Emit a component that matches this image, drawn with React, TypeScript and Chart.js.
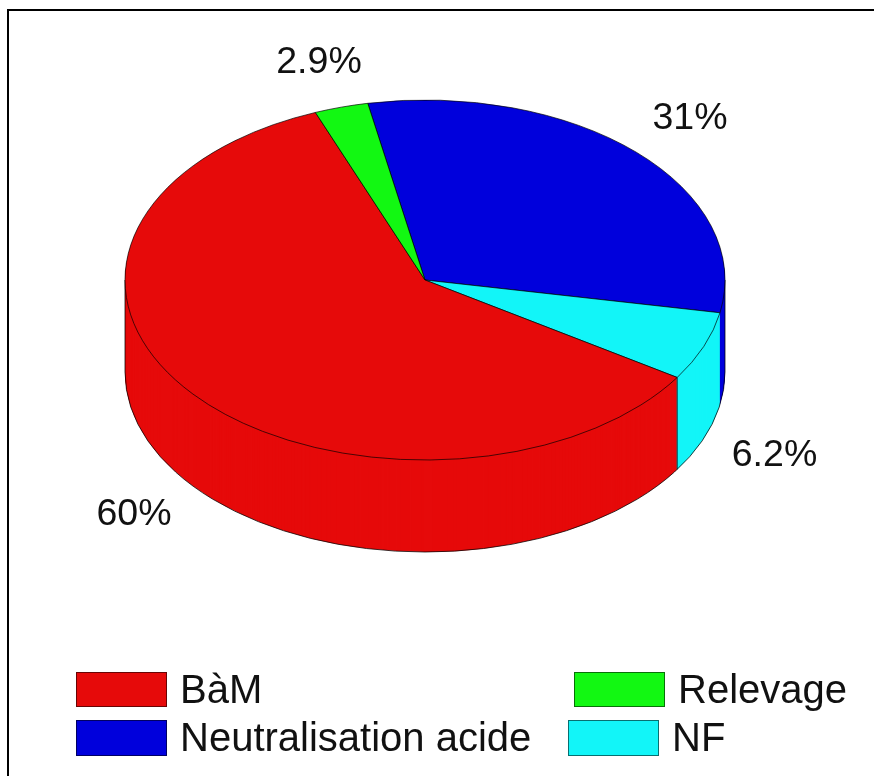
import React, { useEffect, useRef } from "react";
import { Chart, registerables } from "chart.js";

Chart.register(...registerables);

const categories = ["Neutralisation acide", "NF", "BàM", "Relevage"];
const values = [31, 6.2, 60, 2.9];
const valueLabels = ["31%", "6.2%", "60%", "2.9%"];
const colors = ["#0000DC", "#12F5F8", "#E60A0A", "#12F812"];
const labelAnchors = [[690, 119], [774.5, 456], [134, 515], [319, 63]];
const legendBoxes = [[76, 720, 91, 36], [568, 720, 91, 36], [76, 672, 91, 35], [574, 672, 91, 35]];
const legendTextX = [180, 672, 180, 678];

const SQUASH = 0.6;
const DEPTH = 92;
const VALUE_FONT = '37.5px "Liberation Sans", Arial, sans-serif';
const LEGEND_FONT = '40px "Liberation Sans", Arial, sans-serif';

const pie3d = {
  id: "pie3d",
  beforeDatasetDraw(chart: any) {
    const { ctx } = chart;
    const arcs = chart.getDatasetMeta(0).data;
    const cy = arcs[0].y;
    const squash = () => {
      ctx.translate(0, cy);
      ctx.scale(1, SQUASH);
      ctx.translate(0, -cy);
    };
    // side wall: stacked copies of the library's own arcs, bottom to top
    for (let d = DEPTH; d > 0; d--) {
      ctx.save();
      ctx.translate(0, d);
      squash();
      arcs.forEach((arc: any) => {
        const o = arc.options;
        arc.options = { ...o, borderWidth: 0 };
        arc.draw(ctx);
        arc.options = o;
      });
      ctx.restore();
    }
    // silhouette and edge lines of the wall
    const R = arcs[0].outerRadius;
    const cx = arcs[0].x;
    const edge = arcs[2].startAngle;
    ctx.save();
    ctx.strokeStyle = "rgba(0,0,0,0.75)";
    ctx.lineWidth = 1;
    ctx.beginPath();
    ctx.moveTo(cx + R * Math.cos(edge), cy + R * SQUASH * Math.sin(edge));
    ctx.lineTo(cx + R * Math.cos(edge), cy + R * SQUASH * Math.sin(edge) + DEPTH);
    ctx.moveTo(cx - R, cy);
    ctx.lineTo(cx - R, cy + DEPTH);
    ctx.ellipse(cx, cy + DEPTH, R, R * SQUASH, 0, Math.PI, 0, true);
    ctx.lineTo(cx + R, cy);
    ctx.stroke();
    ctx.restore();
    ctx.save();
    squash();
  },
  afterDatasetDraw(chart: any) {
    chart.ctx.restore();
  },
  afterDraw(chart: any) {
    const { ctx } = chart;
    ctx.save();
    ctx.font = VALUE_FONT;
    ctx.fillStyle = "#111";
    ctx.textBaseline = "middle";
    ctx.textAlign = "center";
    valueLabels.forEach((t, i) => ctx.fillText(t, labelAnchors[i][0], labelAnchors[i][1]));
    ctx.textAlign = "left";
    ctx.font = LEGEND_FONT;
    categories.forEach((t, i) => {
      const [x, y, w, h] = legendBoxes[i];
      ctx.fillStyle = colors[i];
      ctx.fillRect(x, y, w, h);
      ctx.strokeStyle = "rgba(0,0,0,0.55)";
      ctx.lineWidth = 1;
      ctx.strokeRect(x + 0.5, y + 0.5, w - 1, h - 1);
      ctx.fillStyle = "#111";
      ctx.fillText(t, legendTextX[i], y + h / 2 + 2);
    });
    ctx.restore();
  },
};

export default function App() {
  const ref = useRef<HTMLCanvasElement>(null);
  useEffect(() => {
    document.body.style.margin = "0";
    const chart = new Chart(ref.current as HTMLCanvasElement, {
      type: "pie",
      data: {
        labels: categories,
        datasets: [
          {
            data: values,
            backgroundColor: colors,
            borderColor: "rgba(0,0,0,0.85)",
            borderWidth: 1,
            clip: false,
          } as any,
        ],
      },
      options: {
        responsive: false,
        animation: false,
        radius: 300,
        rotation: -11,
        layout: { padding: { left: 0, right: 24, top: 0, bottom: 216 } },
        plugins: { legend: { display: false }, tooltip: { enabled: false } },
      } as any,
      plugins: [pie3d],
    });
    return () => chart.destroy();
  }, []);
  return (
    <div style={{ position: "relative", width: 874, height: 776, background: "#fff", overflow: "hidden" }}>
      <canvas ref={ref} width={874} height={776} style={{ display: "block" }} />
      <div
        style={{
          position: "absolute",
          left: 7,
          top: 9,
          width: 880,
          height: 800,
          border: "2px solid #000",
          boxSizing: "border-box",
        }}
      />
    </div>
  );
}
